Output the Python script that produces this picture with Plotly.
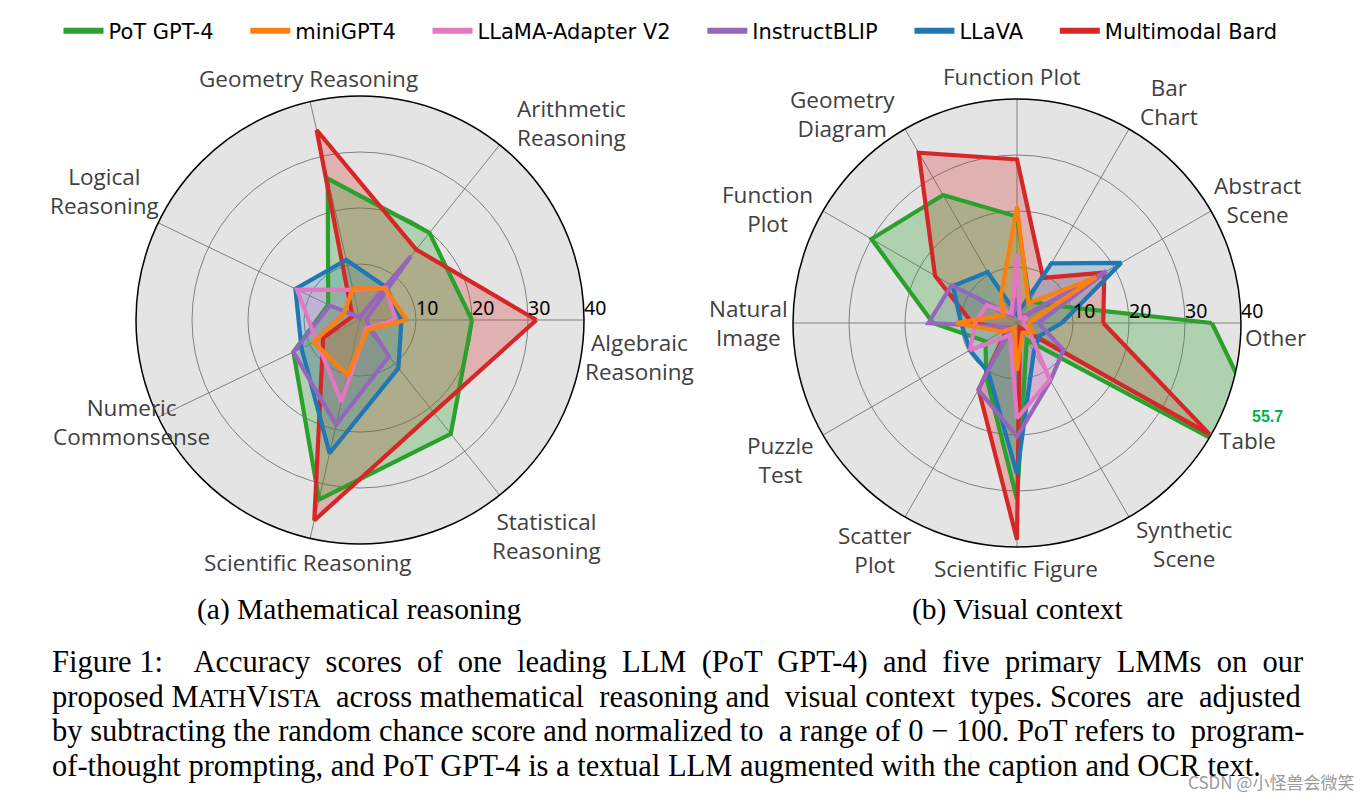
import plotly.graph_objects as go

# ---------------- data ----------------
models = ["PoT GPT-4", "miniGPT4", "LLaMA-Adapter V2", "InstructBLIP", "LLaVA", "Multimodal Bard"]
colors = ["#2ca02c", "#ff7f0e", "#e377c2", "#9467bd", "#1f77b4", "#d62728"]
fills = ["rgba(44,160,44,0.28)", "rgba(255,127,14,0.22)", "rgba(227,119,194,0.25)",
         "rgba(148,103,189,0.25)", "rgba(31,119,180,0.25)", "rgba(214,39,40,0.27)"]

math_labels = ["Algebraic<br>Reasoning", "Arithmetic<br>Reasoning", "Geometry Reasoning",
               "Logical<br>Reasoning", "Numeric<br>Commonsense", "Scientific Reasoning",
               "Statistical<br>Reasoning"]
math_pot_gpt4 = [20.0, 19.9, 25.9, 6.3, 13.2, 32.9, 26.0]
math_minigpt4 = [8.3, 7.2, 5.8, 3.1, 9.2, 10.0, 2.2]
math_llama_adapter = [6.3, 7.4, 5.5, 12.5, 8.6, 15.0, 1.9]
math_instructblip = [1.0, 14.6, 0.5, 6.0, 13.2, 19.2, 8.3]
math_llava = [7.4, 7.5, 11.0, 12.8, 11.6, 24.4, 11.0]
math_bard = [31.5, 16.1, 34.8, 1.5, 7.3, 36.7, 21.1]

vis_labels = ["Other", "Abstract<br>Scene", "Bar<br>Chart", "Function Plot", "Geometry<br>Diagram",
              "Function<br>Plot", "Natural<br>Image", "Puzzle<br>Test", "Scatter<br>Plot",
              "Scientific Figure", "Synthetic<br>Scene", "Table"]
vis_pot_gpt4 = [34.8, 6.5, 4.5, 19.0, 26.4, 30.0, 15.0, 6.5, 11.0, 31.5, 3.5, 55.7]
vis_minigpt4 = [2.0, 16.3, 4.1, 20.8, 5.7, 2.8, 10.9, 3.1, 1.0, 8.5, 2.0, 3.3]
vis_llama_adapter = [1.0, 2.0, 1.0, 12.4, 2.0, 6.3, 7.5, 9.7, 2.5, 17.0, 11.7, 2.4]
vis_instructblip = [3.8, 18.5, 1.0, 4.4, 1.5, 13.5, 15.8, 1.5, 13.8, 20.3, 11.9, 9.6]
vis_llava = [8.0, 21.5, 12.3, 1.5, 10.5, 13.2, 10.0, 9.7, 10.2, 27.0, 6.0, 4.6]
vis_bard = [15.4, 18.0, 9.3, 29.2, 35.1, 16.9, 8.0, 2.0, 13.7, 38.7, 1.0, 39.7]

radial_ticks = [10, 20, 30, 40]
table_outlier_label = "55.7"

math_series = [math_pot_gpt4, math_minigpt4, math_llama_adapter, math_instructblip, math_llava, math_bard]
vis_series = [vis_pot_gpt4, vis_minigpt4, vis_llama_adapter, vis_instructblip, vis_llava, vis_bard]

caption_lines = [
    "Figure 1:  Accuracy scores of one leading LLM (PoT GPT-4) and five primary LMMs on our",
    "proposed MATHVISTA across mathematical reasoning and visual context types. Scores are adjusted",
    "by subtracting the random chance score and normalized to a range of 0 \u2212 100. PoT refers to program-",
    "of-thought prompting, and PoT GPT-4 is a textual LLM augmented with the caption and OCR text.",
]

# ---------------- layout helpers ----------------
OFF = 8  # the page body has an 8px margin
W, H = 1370 - 2 * OFF, 802 - 2 * OFF


def px(x):
    return (x - OFF) / W


def py(y):
    return 1 - (y - OFF) / H


# where each category label block is centred (page pixels)
math_label_pos = [(639, 357), (571, 123), (308, 79), (104, 191), (132, 422), (308, 562), (546, 536)]
vis_label_pos = [(1275, 338), (1257, 200), (1169, 102), (1012, 77), (843, 114), (768, 209),
                 (748, 323), (780, 460), (875, 550), (1016, 568), (1184, 544), (1247, 440)]

fig = go.Figure()
fill_order = [5, 4, 3, 2, 1, 0]   # Bard fill at the bottom, PoT GPT-4 fill on top
line_order = [0, 5, 4, 3, 2, 1]   # outlines drawn above all fills


def add_radar(series, labels, subplot):
    n = len(labels)
    thetas = [360.0 * i / n for i in range(n)]
    for k in fill_order:
        vals = series[k]
        fig.add_trace(go.Scatterpolar(
            r=vals + vals[:1], theta=thetas + thetas[:1], mode="lines",
            line=dict(color="rgba(0,0,0,0)", width=0), fill="toself", fillcolor=fills[k],
            showlegend=False, hoverinfo="skip", subplot=subplot))
    for k in line_order:
        vals = series[k]
        fig.add_trace(go.Scatterpolar(
            r=vals + vals[:1], theta=thetas + thetas[:1], mode="lines",
            line=dict(color=colors[k], width=4.2), showlegend=False, hoverinfo="skip",
            subplot=subplot))
    # radial tick labels, sitting just right of each ring above the 0-degree spoke
    fig.add_trace(go.Scatterpolar(
        r=radial_ticks, theta=[0] * len(radial_ticks), mode="text",
        text=[str(t) for t in radial_ticks], textposition="top right",
        textfont=dict(family="Noto Sans", size=19.5, color="black"),
        showlegend=False, hoverinfo="skip", cliponaxis=False, subplot=subplot))
    return thetas


th_math = add_radar(math_series, math_labels, "polar")
th_vis = add_radar(vis_series, vis_labels, "polar2")

for k, name in enumerate(models):
    fig.add_trace(go.Scatterpolar(r=[None], theta=[None], mode="lines",
                                  name=name + "\u00a0\u00a0\u00a0\u00a0",
                                  line=dict(color=colors[k], width=6), showlegend=True,
                                  subplot="polar"))


def polar_layout(thetas, cx, cy, r):
    return dict(
        domain=dict(x=[px(cx - r), px(cx + r)], y=[py(cy + r), py(cy - r)]),
        bgcolor="#e4e4e4",
        angularaxis=dict(
            tickmode="array", tickvals=thetas, showticklabels=False, direction="counterclockwise",
            rotation=0, showline=True, linecolor="black", linewidth=1.5,
            gridcolor="#808080", gridwidth=1, ticks=""),
        radialaxis=dict(
            range=[0, 40], tickvals=radial_ticks, angle=0, showticklabels=False,
            showline=False, ticks="", gridcolor="#808080", gridwidth=1),
    )


fig.update_layout(
    width=W, height=H,
    margin=dict(l=0, r=0, t=0, b=0),
    paper_bgcolor="white",
    polar=polar_layout(th_math, 360, 320, 224),
    polar2=polar_layout(th_vis, 1017, 323, 224),
    legend=dict(orientation="h", x=px(684), xanchor="center", y=py(31), yanchor="middle",
                font=dict(family="DejaVu Sans", size=21, color="black"),
                bgcolor="rgba(0,0,0,0)", itemwidth=40),
)

# --- Times-like glyph widths (per 1000 em) for justification of the caption ---
TW = {" ": 250, "a": 444, "b": 500, "c": 444, "d": 500, "e": 444, "f": 333, "g": 500, "h": 500,
      "i": 278, "j": 278, "k": 500, "l": 278, "m": 778, "n": 500, "o": 500, "p": 500, "q": 500,
      "r": 333, "s": 389, "t": 278, "u": 500, "v": 500, "w": 722, "x": 500, "y": 500, "z": 444,
      "A": 722, "B": 667, "C": 667, "D": 722, "E": 611, "F": 556, "G": 722, "H": 722, "I": 333,
      "J": 389, "K": 722, "L": 611, "M": 889, "N": 722, "O": 722, "P": 556, "Q": 722, "R": 667,
      "S": 556, "T": 611, "U": 722, "V": 722, "W": 944, "X": 722, "Y": 722, "Z": 611,
      "(": 333, ")": 333, ",": 250, ".": 250, ":": 278, "-": 333, "\u2212": 564}

CAP_SIZE = 30.5
SC_SIZE = 24.5
SMALLCAPS = {"MATHVISTA": [("M", CAP_SIZE), ("ATH", SC_SIZE), ("V", CAP_SIZE), ("ISTA", SC_SIZE)]}


def word_width(word):
    if word in SMALLCAPS:
        return sum(sum(TW.get(c, 500) for c in part) * s / 1000 for part, s in SMALLCAPS[word])
    return sum(TW.get(c, 500) for c in word) * CAP_SIZE / 1000


def word_markup(word):
    if word in SMALLCAPS:
        out = ""
        for part, s in SMALLCAPS[word]:
            out += part if s == CAP_SIZE else '<span style="font-size:%gpx">%s</span>' % (s, part)
        return out
    return word


def justify(line, target):
    words = line.split(" ")
    natural = sum(word_width(w) for w in words) + (len(words) - 1) * TW[" "] * CAP_SIZE / 1000
    gaps = len(words) - 1
    n_extra = max(0, int(round((target - natural) / (TW[" "] * CAP_SIZE / 1000))))
    out = word_markup(words[0])
    for i, w in enumerate(words[1:]):
        k = (n_extra * (i + 1)) // gaps - (n_extra * i) // gaps
        out += " " + "\u00a0" * k + word_markup(w)
    return out


label_font = dict(family="Open Sans", size=22.5, color="#404040")
ann = []
for labels, pos in ((math_labels, math_label_pos), (vis_labels, vis_label_pos)):
    for lab, (lx, ly) in zip(labels, pos):
        ann.append(dict(text=lab, x=px(lx), y=py(ly), xanchor="center", align="center",
                        font=label_font))

serif_sub = dict(family="Liberation Serif", size=29.5, color="black")
serif_cap = dict(family="Liberation Serif", size=CAP_SIZE, color="black")
ann += [
    dict(text="(a) Mathematical reasoning", x=px(359), y=py(609), font=serif_sub, xanchor="center"),
    dict(text="(b) Visual context", x=px(1017), y=py(609), font=serif_sub, xanchor="center"),
    dict(text=table_outlier_label, x=px(1267), y=py(416), xanchor="center",
         font=dict(family="Liberation Sans", size=16, color="#00b050", weight="bold")),
]
cap_y = [662, 696.5, 731, 765.5]
for i, line in enumerate(caption_lines):
    txt = justify(line, 1255) if i < len(caption_lines) - 1 else justify(line, 0)
    ann.append(dict(text=txt, x=px(50), y=py(cap_y[i]), xanchor="left", font=serif_cap))
ann.append(dict(text="CSDN @\u5c0f\u602a\u517d\u4f1a\u5fae\u7b11", x=px(1356), y=py(781),
                xanchor="right", font=dict(family="Noto Sans CJK SC", size=17, color="#9a9a9a")))
for a in ann:
    a.update(xref="paper", yref="paper", showarrow=False, yanchor="middle")
fig.update_layout(annotations=ann)

fig.write_html("out.html")
